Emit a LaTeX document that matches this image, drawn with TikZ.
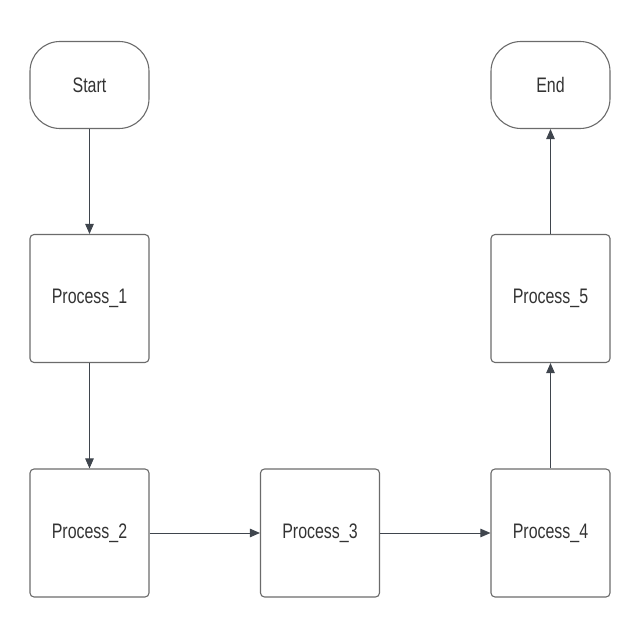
\documentclass[tikz,border=0pt]{standalone}
\usepackage{fontspec}
\setmainfont{Liberation Sans}[FakeStretch=0.76]
\usepackage{tikz}
\usetikzlibrary{arrows.meta}
\definecolor{boxline}{HTML}{6B6B6B}
\definecolor{arrline}{HTML}{3F454D}
\definecolor{txt}{HTML}{333333}

\begin{document}
\begin{tikzpicture}[x=1pt, y=1pt,
    terminal/.style={draw=boxline, line width=1.1pt, rounded corners=30pt, minimum width=119pt, minimum height=87pt, inner sep=0pt, text=txt, font=\fontsize{21}{25}\selectfont},
    process/.style={draw=boxline, line width=1.1pt, rounded corners=4pt, minimum width=119pt, minimum height=128pt, inner sep=0pt, text=txt, font=\fontsize{21}{25}\selectfont},
    flow/.style={draw=arrline, line width=0.9pt, -{Triangle[length=10pt, width=8.5pt]}}]
    \useasboundingbox (0, 0) rectangle (640, 640);

    \node[terminal] at (89.5, 555) (start) {Start};
    \node[process] at (89.5, 341.5) (p1) {Process\_1};
    \node[process] at (89.5, 107) (p2) {Process\_2};
    \node[process] at (320, 107) (p3) {Process\_3};
    \node[process] at (550.5, 107) (p4) {Process\_4};
    \node[process] at (550.5, 341.5) (p5) {Process\_5};
    \node[terminal] at (550.5, 555) (end) {End};

    \draw[flow] (start) -- (p1);
    \draw[flow] (p1) -- (p2);
    \draw[flow] (p2) -- (p3);
    \draw[flow] (p3) -- (p4);
    \draw[flow] (p4) -- (p5);
    \draw[flow] (p5) -- (end);
\end{tikzpicture}
\end{document}
